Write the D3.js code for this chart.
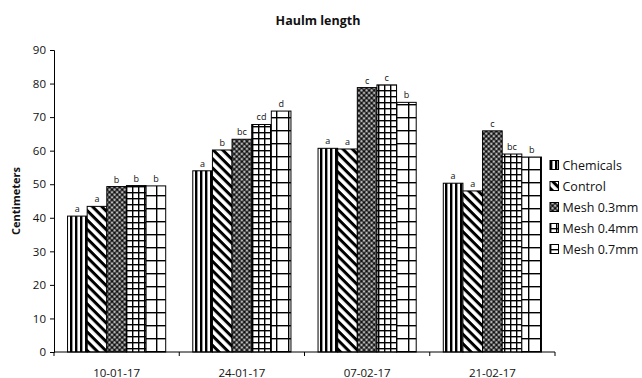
<!DOCTYPE html>
<html>
<head>
<meta charset="utf-8">
<script src="https://cdn.jsdelivr.net/npm/d3@7"></script>
<style>
  html, body { margin: 0; padding: 0; background: #fff; }
  svg { display: block; font-family: "Open Sans", "DejaVu Sans", sans-serif; }
</style>
</head>
<body>
<svg id="chart" width="642" height="378"></svg>
<script>
// Sampling dates
const dates = ["10-01-17", "24-01-17", "07-02-17", "21-02-17"];
// Treatments
const treatments = ["Chemicals", "Control", "Mesh 0.3mm", "Mesh 0.4mm", "Mesh 0.7mm"];
// Mean haulm length (cm), one array per treatment, ordered by date
const chemicals = [40.5, 54.0, 60.7, 50.3];
const control   = [43.4, 60.2, 60.5, 48.0];
const mesh03    = [49.3, 63.4, 78.8, 65.9];
const mesh04    = [49.6, 67.8, 79.6, 59.0];
const mesh07    = [49.5, 71.8, 74.4, 58.1];
// Significance letters, one array per treatment, ordered by date
const letChem   = ["a", "a", "a", "a"];
const letCtrl   = ["a", "b", "a", "a"];
const let03     = ["b", "bc", "c", "c"];
const let04     = ["b", "cd", "c", "bc"];
const let07     = ["b", "d", "b", "b"];
const yTicks = [0, 10, 20, 30, 40, 50, 60, 70, 80, 90];

const seriesValues = [chemicals, control, mesh03, mesh04, mesh07];
const seriesLetters = [letChem, letCtrl, let03, let04, let07];

const svg = d3.select("#chart");
const plotLeft = 54, plotRight = 555, plotTop = 50, plotBottom = 352;

// Hatch fills
const defs = svg.append("defs");
const patIds = ["p-chem", "p-ctrl", "p-m03", "p-m04", "p-m07"];

let p = defs.append("pattern").attr("id", "p-chem").attr("patternUnits", "userSpaceOnUse")
  .attr("width", 5).attr("height", 5);
p.append("rect").attr("width", 5).attr("height", 5).attr("fill", "#fff");
p.append("rect").attr("x", 0).attr("width", 2.4).attr("height", 5).attr("fill", "#000");

p = defs.append("pattern").attr("id", "p-ctrl").attr("patternUnits", "userSpaceOnUse")
  .attr("width", 6.6).attr("height", 6.6).attr("patternTransform", "rotate(45)");
p.append("rect").attr("width", 6.6).attr("height", 6.6).attr("fill", "#fff");
p.append("rect").attr("y", 0).attr("width", 6.6).attr("height", 3).attr("fill", "#000");

// dense diamond net for the finest mesh
p = defs.append("pattern").attr("id", "p-m03").attr("patternUnits", "userSpaceOnUse")
  .attr("width", 3.6).attr("height", 3.6).attr("patternTransform", "rotate(45)");
p.append("rect").attr("width", 3.6).attr("height", 3.6).attr("fill", "#4a4a4a");
p.append("rect").attr("x", 0).attr("y", 0).attr("width", 1.8).attr("height", 1.8).attr("fill", "#111");
p.append("circle").attr("cx", 2.7).attr("cy", 2.7).attr("r", 0.85).attr("fill", "#e8e8e8");

p = defs.append("pattern").attr("id", "p-m04").attr("patternUnits", "userSpaceOnUse")
  .attr("width", 6).attr("height", 6);
p.append("rect").attr("width", 6).attr("height", 6).attr("fill", "#fff");
p.append("rect").attr("width", 1.4).attr("height", 6).attr("fill", "#000");
p.append("rect").attr("width", 6).attr("height", 1.4).attr("fill", "#000");

p = defs.append("pattern").attr("id", "p-m07").attr("patternUnits", "userSpaceOnUse")
  .attr("width", 12).attr("height", 13);
p.append("rect").attr("width", 12).attr("height", 13).attr("fill", "#fff");
p.append("rect").attr("width", 1.4).attr("height", 13).attr("fill", "#000");
p.append("rect").attr("width", 12).attr("height", 1.4).attr("fill", "#000");

// Scales
const x0 = d3.scaleBand().domain(dates).range([plotLeft, plotRight]).padding(0);
const x1 = d3.scaleBand().domain(treatments).range([0, x0.bandwidth()])
  .paddingInner(0).paddingOuter(0.69);
const y = d3.scaleLinear().domain([0, 90]).range([plotBottom, plotTop]);

// Title
svg.append("text").attr("x", 318).attr("y", 25).attr("text-anchor", "middle")
  .attr("font-weight", "bold").attr("font-size", 12.5).attr("fill", "#111")
  .text("Haulm length");

// Y axis title
svg.append("text").attr("transform", "translate(20," + ((plotTop + plotBottom) / 2) + ") rotate(-90)")
  .attr("text-anchor", "middle").attr("font-weight", "bold").attr("font-size", 11)
  .attr("fill", "#111").text("Centimeters");

// Bars
const rows = [];
dates.forEach((d, i) => treatments.forEach((t, j) => {
  rows.push({ date: d, t: t, j: j, v: seriesValues[j][i], lab: seriesLetters[j][i] });
}));

const g = svg.append("g");
g.selectAll("rect.bar").data(rows).enter().append("rect")
  .attr("class", "bar")
  .attr("x", d => x0(d.date) + x1(d.t))
  .attr("y", d => y(d.v))
  .attr("width", x1.bandwidth())
  .attr("height", d => y(0) - y(d.v))
  .attr("fill", d => "url(#" + patIds[d.j] + ")")
  .attr("stroke", "#000").attr("stroke-width", 1);

g.selectAll("text.lab").data(rows).enter().append("text")
  .attr("class", "lab")
  .attr("x", d => x0(d.date) + x1(d.t) + x1.bandwidth() / 2)
  .attr("y", d => y(d.v) - 4)
  .attr("text-anchor", "middle").attr("font-size", 9).attr("fill", "#111")
  .text(d => d.lab);

// Y axis
const yAxis = svg.append("g").attr("transform", "translate(" + plotLeft + ",0)")
  .call(d3.axisLeft(y).tickValues(yTicks).tickSize(4).tickPadding(4));
yAxis.select(".domain").attr("stroke", "#000");
yAxis.selectAll("line").attr("stroke", "#000");
yAxis.selectAll("text").attr("font-size", 11.5).attr("fill", "#111")
  .attr("font-family", "'Open Sans', sans-serif");

// X axis with ticks at category boundaries
const xAxis = svg.append("g").attr("transform", "translate(0," + plotBottom + ")");
xAxis.append("line").attr("x1", plotLeft).attr("x2", plotRight).attr("stroke", "#000");
const bounds = dates.map(d => x0(d)).concat([plotRight]);
xAxis.selectAll("line.tk").data(bounds).enter().append("line")
  .attr("class", "tk").attr("x1", d => d).attr("x2", d => d)
  .attr("y1", 0).attr("y2", 4).attr("stroke", "#000");
xAxis.selectAll("text").data(dates).enter().append("text")
  .attr("x", d => x0(d) + x0.bandwidth() / 2).attr("y", 24.5)
  .attr("text-anchor", "middle").attr("font-size", 11.5).attr("fill", "#111")
  .text(d => d);

// Legend
const leg = svg.append("g").attr("transform", "translate(550,165)");
const li = leg.selectAll("g").data(treatments).enter().append("g")
  .attr("transform", (d, i) => "translate(0," + (i * 21) + ")");
li.append("rect").attr("x", 0).attr("y", -4.5).attr("width", 8.5).attr("height", 9)
  .attr("fill", (d, i) => "url(#" + patIds[i] + ")").attr("stroke", "#000").attr("stroke-width", 1);
li.append("text").attr("x", 12.5).attr("y", 4.5).attr("font-size", 12.5).attr("fill", "#111")
  .text(d => d);
</script>
</body>
</html>
